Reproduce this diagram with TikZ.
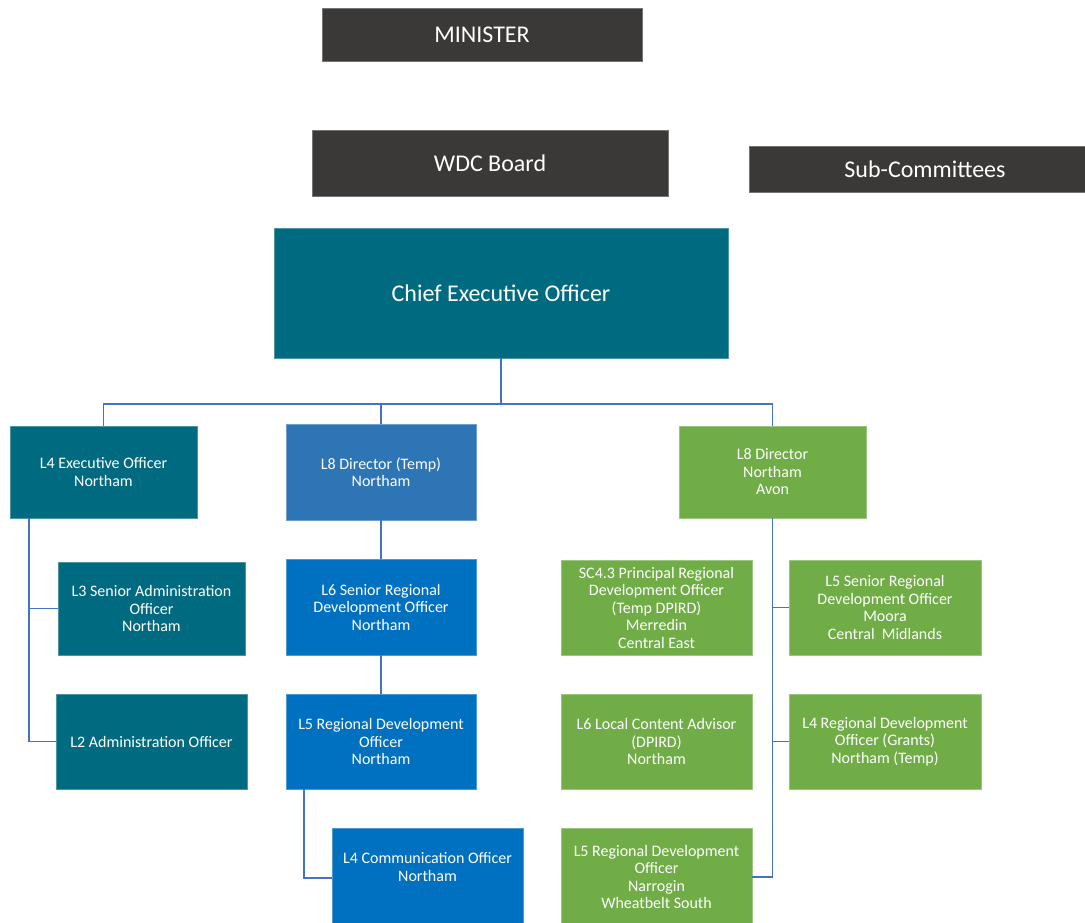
\documentclass[tikz,border=0pt]{standalone}
\usepackage{fontspec}
\setmainfont{Carlito}
\definecolor{boardgrey}{HTML}{3B3838}
\definecolor{ceoteal}{HTML}{006B80}
\definecolor{tempblue}{HTML}{2E75B6}
\definecolor{rdoblue}{HTML}{0070C0}
\definecolor{avongreen}{HTML}{70AD47}
\definecolor{linkblue}{HTML}{4472C4}

\begin{document}
\begin{tikzpicture}[x=1pt, y=-1pt,
    box/.style={fill=#1, draw=#1!70!white, line width=0.6pt, text=white, align=center, inner sep=1pt, font=\fontsize{16}{17.5}\selectfont},
    head/.style={box=#1, font=\fontsize{24}{28}\selectfont},
    link/.style={draw=linkblue, line width=1.6pt}]
    \useasboundingbox (0,0) rectangle (1085,922);
    % board level
    \node (minister) [head=boardgrey, minimum width=320pt, minimum height=53pt] at (482,34.5) {MINISTER};
    \node (board) [head=boardgrey, minimum width=356pt, minimum height=66pt] at (490,163) {WDC Board};
    \node (subcom) [head=boardgrey, minimum width=352pt, minimum height=46pt] at (925,169) {Sub-Committees};
    \node (ceo) [head=ceoteal, minimum width=454pt, minimum height=130pt] at (501,293) {Chief Executive Officer};
    % directors
    \node (exec) [box=ceoteal, minimum width=187pt, minimum height=92pt] at (103.5,472) {L4 Executive Officer\\Northam};
    \node (dirA) [box=tempblue, minimum width=190pt, minimum height=96pt] at (381,472) {L8 Director (Temp)\\Northam};
    \node (dirB) [box=avongreen, minimum width=187pt, minimum height=92pt] at (772.5,472) {L8 Director\\Northam\\Avon};
    % left column
    \node (senadmin) [box=ceoteal, minimum width=187pt, minimum height=93pt] at (151.5,608.5) {L3 Senior Administration\\Officer\\Northam};
    \node (admin) [box=ceoteal, minimum width=191pt, minimum height=95pt] at (151.5,741.5) {L2 Administration Officer};
    % middle column
    \node (srdo) [box=rdoblue, minimum width=190pt, minimum height=96pt] at (381,607) {L6 Senior Regional\\Development Officer\\Northam};
    \node (rdo) [box=rdoblue, minimum width=190pt, minimum height=95pt] at (381,741.5) {L5 Regional Development\\Officer\\Northam};
    \node (comm) [box=rdoblue, minimum width=191pt, minimum height=100pt] at (427.5,878) {};
    \node (commtext) [box=rdoblue, draw=none] at (427.5,867) {L4 Communication Officer\\Northam};
    % right column
    \node (principal) [box=avongreen, minimum width=191pt, minimum height=95pt] at (656.5,607.5) {SC4.3 Principal Regional\\Development Officer\\(Temp DPIRD)\\Merredin\\Central East};
    \node (moora) [box=avongreen, minimum width=192pt, minimum height=95pt] at (885,607.5) {L5 Senior Regional\\Development Officer\\Moora\\Central\ \ Midlands};
    \node (local) [box=avongreen, minimum width=191pt, minimum height=95pt] at (656.5,741.5) {L6 Local Content Advisor\\(DPIRD)\\Northam};
    \node (grants) [box=avongreen, minimum width=192pt, minimum height=95pt] at (885,741.5) {L4 Regional Development\\Officer (Grants)\\Northam (Temp)};
    \node (narrogin) [box=avongreen, minimum width=191pt, minimum height=98pt] at (656.5,877) {L5 Regional Development\\Officer\\Narrogin\\Wheatbelt South};
    % connectors
    \coordinate (bus) at (0,404);
    \draw [link] (ceo.south) -- (ceo.south |- bus);
    \draw [link] (exec.north) |- (dirB.north |- bus) -- (dirB.north);
    \draw [link] (dirA.north) -- (dirA.north |- bus);
    \draw [link] ([xshift=19pt]exec.south west) |- (senadmin.west);
    \draw [link] ([xshift=19pt]exec.south west) |- (admin.west);
    \draw [link] (dirA) -- (srdo);
    \draw [link] (srdo) -- (rdo);
    \draw [link] ([xshift=18pt]rdo.south west) |- (comm.west);
    \draw [link] (dirB.south) |- (moora.west);
    \draw [link] (dirB.south) |- (grants.west);
    \draw [link] (dirB.south) |- (narrogin.east);
\end{tikzpicture}
\end{document}
